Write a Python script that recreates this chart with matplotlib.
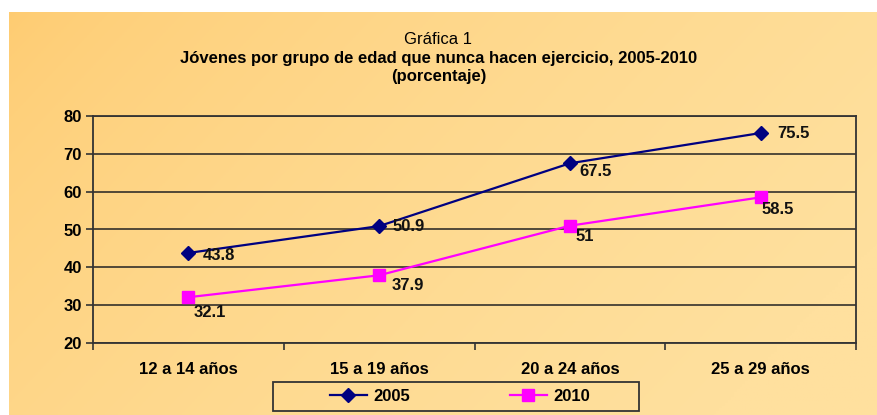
import numpy as np
import matplotlib
matplotlib.use('Agg')
import matplotlib.pyplot as plt
from matplotlib.patches import Rectangle

plt.rcParams['font.family'] = ['Liberation Sans', 'DejaVu Sans']

# Datos
grupos = ['12 a 14 años', '15 a 19 años', '20 a 24 años', '25 a 29 años']
valores_2005 = [43.8, 50.9, 67.5, 75.5]
valores_2010 = [32.1, 37.9, 51, 58.5]
etiquetas_2005 = ['43.8', '50.9', '67.5', '75.5']
etiquetas_2010 = ['32.1', '37.9', '51', '58.5']

W, H = 877, 415
FS = 12
fig = plt.figure(figsize=(W / 100, H / 100), dpi=100)
fig.patch.set_facecolor('white')

# Fondo degradado (naranja a amarillo claro)
bg = fig.add_axes([9 / W, 0, (W - 9) / W, (H - 12) / H])
gx, gy = np.meshgrid(np.linspace(0, 1, 300), np.linspace(0, 1, 150))
t = np.clip(0.8 * gx + 0.35 * gy, 0, 1) ** 0.6
c0 = np.array([254, 203, 112]) / 255
c1 = np.array([255, 224, 158]) / 255
img = c0[None, None, :] * (1 - t[..., None]) + c1[None, None, :] * t[..., None]
bg.imshow(img, aspect='auto', extent=[0, 1, 0, 1], origin='upper')
bg.axis('off')

# Ejes
ax = fig.add_axes([93 / W, 1 - 343 / H, (856 - 93) / W, (343 - 116) / H])
ax.set_facecolor('none')
x = np.arange(len(grupos))

ax.plot(x, valores_2005, color='#000080', lw=1.6, marker='D', ms=7.5,
        label='2005', zorder=3)
ax.plot(x, valores_2010, color='#FF00FF', lw=1.6, marker='s', ms=9,
        label='2010', zorder=3)

# Etiquetas de datos (desplazamiento en puntos)
desp_2005 = [(10, -2), (10, 0), (7, -6), (12, 0)]
desp_2010 = [(4, -11), (9, -7), (4, -8), (1, -9)]
for xi, v, s, d in zip(x, valores_2005, etiquetas_2005, desp_2005):
    ax.annotate(s, (xi, v), xytext=d, textcoords='offset points',
                ha='left', va='center', fontsize=FS, fontweight='bold', color='#111')
for xi, v, s, d in zip(x, valores_2010, etiquetas_2010, desp_2010):
    ax.annotate(s, (xi, v), xytext=d, textcoords='offset points',
                ha='left', va='center', fontsize=FS, fontweight='bold', color='#111')

ax.set_xlim(-0.5, len(grupos) - 0.5)
ax.set_ylim(20, 80)
ax.set_yticks(range(20, 81, 10))
ax.set_xticks(x)
ax.set_xticklabels(grupos, fontsize=FS, fontweight='bold')
ax.set_xticks(np.arange(-0.5, len(grupos), 1), minor=True)
ax.tick_params(axis='x', which='major', length=0, pad=14)
ax.tick_params(axis='x', which='minor', length=5, width=1.2, color='#333')
ax.tick_params(axis='y', length=5, width=1.2, color='#333', pad=3)
for lab in ax.get_yticklabels():
    lab.set_fontsize(FS)
    lab.set_fontweight('bold')

ax.yaxis.grid(True, color='#222', lw=1.1)
ax.set_axisbelow(True)
for sp in ax.spines.values():
    sp.set_color('#333')
    sp.set_linewidth(1.3)

# Títulos
fig.text(0.5, 1 - 40 / H, 'Gráfica 1', ha='center', va='center', fontsize=FS)
fig.text(0.5, 1 - 58 / H,
         'Jóvenes por grupo de edad que nunca hacen ejercicio, 2005-2010',
         ha='center', va='center', fontsize=FS, fontweight='bold')
fig.text(0.5, 1 - 77 / H, '(porcentaje)', ha='center', va='center',
         fontsize=FS, fontweight='bold')

# Leyenda con recuadro
fig.patches.append(Rectangle((273 / W, 1 - 411 / H), (639 - 273) / W, 29 / H,
                             transform=fig.transFigure, fill=False,
                             edgecolor='#333', lw=1.3))
leg = fig.legend(loc='center', bbox_to_anchor=(460 / W, 1 - 396.5 / H), ncol=2,
                 frameon=False, handlelength=2.2, handletextpad=0.4,
                 columnspacing=6.0, prop={'weight': 'bold', 'size': FS})

fig.savefig('out.png', dpi=100)
